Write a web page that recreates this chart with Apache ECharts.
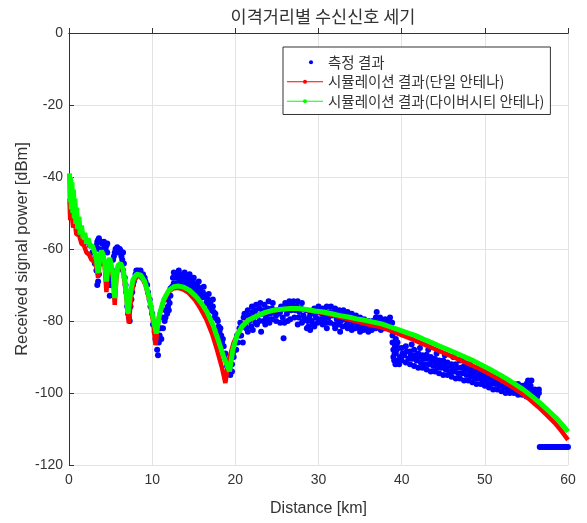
<!DOCTYPE html>
<html>
<head>
<meta charset="utf-8">
<script src="https://cdn.jsdelivr.net/npm/echarts@6/dist/echarts.min.js"></script>
<style>html,body{margin:0;padding:0;background:#fff;}#c{width:587px;height:523px;}</style>
</head>
<body>
<div id="c"></div>
<script>
var xTicks = [0, 10, 20, 30, 40, 50, 60];
var yTicks = [0, -20, -40, -60, -80, -100, -120];
var seriesNames = ['측정 결과', '시뮬레이션 결과(단일 안테나)', '시뮬레이션 결과(다이버시티 안테나)'];

// measured points [distance km, dBm]
var measured = [
[0.3,-50],[0.6,-52],[1,-54],[1.5,-56],[2,-58],[2.5,-59],[3,-60],
[3.2,-62],[3.4,-58],[3.5,-57.5],[3.6,-60],[3.3,-66],[3.4,-70],[3.7,-64],[3.9,-61],[4.1,-60],[4.3,-59],[4.5,-59],[4.6,-61],[4.4,-64],[4.7,-66],[4.8,-70],[4.9,-73],[5.1,-68],[5.3,-63],[5.5,-61],[5.7,-61],[5.9,-60],[6.1,-60],[6.3,-62],[6.5,-61],[6.6,-64],[6.7,-68],[6.9,-72],[7.0,-76],[7.2,-79],[7.4,-76],[7.6,-72],[7.8,-69],[8.0,-67],[8.3,-66],[8.6,-66],[8.9,-67],[9.2,-69],[9.5,-72],[9.8,-76],[10.1,-81],[10.4,-85],[10.6,-88],[10.8,-86],[11.0,-82],[11.3,-79],[11.6,-77],[11.9,-74],[12.2,-71],[12.5,-68],[12.8,-67],[13.1,-67],[13.4,-67.5],[13.7,-67],[14.0,-68],[14.3,-68],[14.6,-68.5],[14.9,-69],[15.2,-70],[15.5,-70.5],[15.8,-71],[16.1,-72],[16.4,-73],[16.7,-74],[17.0,-75],[17.3,-76],[17.6,-78],[17.9,-80],[18.2,-82],[18.5,-85],[18.8,-89],[19.1,-94],[19.4,-95],[19.6,-92],[19.9,-88],[20.2,-84],
[3.3,-59],[3.6,-57],[3.8,-58],[4.0,-58.5],[4.2,-58],[4.4,-60],[4.6,-58.5],[5.0,-70],[5.2,-66],[5.4,-62],[5.6,-60],[5.8,-59.5],[6.0,-61],[6.2,-60.5],[6.4,-63],[6.5,-66],[6.8,-70],[7.1,-78],[7.3,-80],[7.5,-74],[7.7,-70],[8.1,-66],[8.4,-67],[8.8,-68],[9.1,-68],[9.4,-70],[9.7,-74],[10.0,-78],[10.3,-83],[3.5,-69],[3.6,-67],[4.7,-69],[2.8,-61],[3.1,-64],
[10.7,-89.5],[10.9,-84],[11.1,-85],[11.3,-82],[11.6,-79],[11.9,-76],[12.2,-73],[12.0,-77],
[12.6,-69.5],[13,-69.5],[13.5,-69.8],[14,-70],[14.5,-70.5],[15,-71.5],[15.5,-72.5],[16,-73.5],[16.5,-75],[17,-77],[17.5,-79],[18,-81.5],[18.3,-84],[18.6,-87],[18.9,-91],[19.2,-92],[19.5,-90],[19.8,-90],[20,-86],[11.5,-80],[11.8,-78],[12.1,-75],
[12.4,-70.5],[12.9,-68],[13.3,-68.5],[13.8,-68.5],[14.2,-69],[14.7,-69.5],[15.1,-70.5],[15.6,-71.5],[16.1,-73],[16.6,-74],[16.9,-76],[17.4,-77.5],[17.8,-79.5],[18.1,-83],[18.4,-86],[18.7,-89.5],[19.0,-92.5],[19.3,-93],[19.6,-94],[19.7,-89],[20.1,-88],[20.3,-86],[20.5,-84],[12.6,-66.5],[13.2,-66],[13.9,-66.5],[14.5,-67],[15.0,-68],[15.6,-69],[16.2,-70.5],[16.8,-72.5],[17.3,-74],
[20.5,-82],[21,-79],[21.5,-77],[22,-76],[22.5,-75.5],[23,-75],[23.5,-75.5],[24,-74.5],[24.5,-75],[25,-77],[25.5,-76],[26,-75],[26.5,-74.5],[27,-74.5],[27.5,-74.5],[28,-75],[28.5,-77],[29,-78],[29.5,-76.5],[30,-76],[30.5,-76.5],[31,-76],[31.5,-76],[32,-76.5],[32.5,-77],[33,-77],[33.5,-77.5],[34,-78],[34.5,-78.5],[35,-79],[35.5,-79.5],[36,-80],[36.5,-80],[37,-77.5],[37.5,-79.5],[38,-79.5],[38.5,-79.5],
[20.7,-84],[21.2,-81],[21.7,-80],[22.2,-79],[22.7,-78.5],[23.2,-78],[23.7,-79],[24.2,-78],[24.7,-77.5],[25.2,-78],[25.7,-79],[26.2,-78],[26.7,-77],[27.2,-77],[27.7,-77.5],[28.2,-78.5],[28.7,-80],[29.2,-80],[29.7,-79],[30.2,-79.5],[30.7,-79],[31.2,-79],[31.7,-78.5],[32.2,-79.5],[32.7,-80],[33.2,-79.5],[33.7,-80],[34.2,-80.5],[34.7,-81],[35.2,-81],[35.7,-81.5],[36.2,-81.5],[36.7,-81],[37.2,-80.5],[37.7,-81],[38.2,-80.5],
[20.9,-86],[21.5,-83],[22.1,-82.5],[22.6,-81],[23.1,-83],[23.6,-81],[24.1,-80.5],[25.8,-84.8],[26.3,-80],[27.5,-81],[28,-80.5],[28.6,-82],[29,-82.5],[29.5,-81.5],[30.5,-81],[31,-82],[32,-82],[32.6,-83],[33.5,-82],[34,-82.5],[35,-83],[35.5,-82],[36,-83],[37.5,-82.5],
[20.6,-80.5],[21.1,-78],[21.6,-78.5],[22.1,-77.5],[22.4,-77],[22.9,-76.5],[23.4,-77],[23.9,-76.5],[24.4,-76.5],[24.9,-78.5],[25.4,-77.5],[25.9,-76.5],[26.4,-76],[26.9,-75.5],[27.4,-76],[27.9,-76.5],[28.4,-79.5],[28.9,-79],[29.4,-78],[29.9,-77.5],[30.4,-78],[30.9,-77.5],[31.4,-77.5],[31.9,-77.5],[32.4,-78],[32.9,-78.5],[33.4,-78.5],[33.9,-79],[34.4,-79.5],[34.9,-80],[35.4,-80.5],[35.9,-80.5],[36.4,-80.5],[36.9,-79],[37.4,-79],[37.9,-80],[38.4,-80.5],[38.6,-79],
[21.3,-82],[21.9,-81.5],[22.4,-80.5],[22.9,-80],[23.4,-80],[23.9,-79.5],[24.4,-79.5],[24.9,-80],[25.4,-80.5],[25.9,-80.5],[26.6,-79.5],[27.1,-79],[27.6,-79],[28.1,-80],[28.8,-81.5],[29.3,-81],[29.9,-80.5],[30.4,-80],[30.9,-80.5],[31.4,-80.5],[31.9,-81],[32.4,-81],[32.9,-81.5],[33.4,-81],[33.9,-81.5],[34.4,-82],[34.9,-82],[35.4,-82.5],[35.9,-82.5],[36.4,-82.5],[36.9,-82],[37.4,-81.5],[37.9,-82],[38.4,-81.5],
[38.8,-82],[38.9,-84],[38.9,-86],[39,-88],[39,-90],[39.1,-91],[39.2,-87],[39.3,-85],[38.85,-80.5],[39.05,-83],[39.15,-89],[39.25,-92],[39.4,-88],
[39.5,-86],[40,-87.5],[40.5,-87],[41,-88.5],[41.5,-88],[42,-89],[42.5,-89.5],[43,-89.4],[43.5,-90],[44,-90.5],[44.5,-91],[45,-91],[45.5,-91.5],[46,-92],[46.5,-92],[47,-91],[47.5,-92.5],[48,-93],[48.5,-93.5],[49,-93.5],[49.5,-94.5],[50,-95],[50.5,-95],[51,-95.5],[51.5,-96],[52,-96.5],[52.5,-97],[53,-97.5],[53.5,-97.5],[54,-97.5],[54.5,-98],[55,-97.5],[55.5,-98],[56,-99],[56.5,-100],
[39.3,-89],[39.8,-90],[40.3,-89.5],[40.8,-90.5],[41.3,-90.5],[41.8,-91],[42.3,-91.5],[42.8,-92],[43.3,-92],[43.8,-92.5],[44.3,-93],[44.8,-93],[45.3,-93.5],[45.8,-94],[46.3,-94],[46.8,-94.5],[47.3,-94.5],[47.8,-95],[48.3,-95.5],[48.8,-96],[49.3,-96],[49.8,-96.5],[50.3,-97],[50.8,-97.5],[51.3,-97.5],[51.8,-98],[52.3,-98.5],[52.8,-99],[53.3,-99],[53.8,-99],[54.3,-99.5],[54.8,-99.5],[55.3,-99.5],[55.8,-100],[56.3,-101],
[39.6,-87.5],[40.1,-89],[40.6,-88.5],[41.1,-89.5],[41.6,-89.5],[42.1,-90],[42.6,-90.5],[43.1,-90.5],[43.6,-91],[44.1,-91.5],[44.6,-92],[45.1,-92],[45.6,-92.5],[46.1,-93],[46.6,-93],[47.1,-93],[47.6,-93.5],[48.1,-94],[48.6,-94.5],[49.1,-95],[49.6,-95.5],[50.1,-96],[50.6,-96],[51.1,-96.5],[51.6,-97],[52.1,-97.5],[52.6,-98],[53.1,-98],[53.6,-98.5],[54.1,-98.5],[54.6,-99],[55.1,-98.5],[55.6,-99],[56.1,-100],[56.5,-99],
[39.5,-91],[40,-91],[41,-92],[42,-93],[43,-93.5],[44,-94],[45,-95],[46,-95.5],[47,-96],[48,-96.5],[49,-97.5],[50,-98],[51,-99],[52,-99.5],[53,-100],[54,-100.5],[55,-101],[56,-101.5],
[39.7,-92],[40.5,-91.5],[41.5,-92.5],[42.5,-93],[43.5,-94],[44.5,-94.5],[45.5,-95],[46.5,-96],[47.5,-96.5],[48.5,-97],[49.5,-97.5],[50.5,-98.5],[51.5,-99],[52.5,-100],[53.5,-100],[54.5,-100.5],[55.5,-101],[56.2,-102],
[41.2,-86.5],[42.2,-87.5],[43.2,-88],[44.2,-89],[45.2,-89.5],[46.2,-90],[47.2,-90.5],[48.2,-92],[50.2,-93.5],[52,-95.5],[55.2,-96.5],[55.6,-96.5],
[56.6,-115],[56.8,-115],[57,-115],[57.2,-115],[57.4,-115],[57.6,-115],[57.8,-115],[58,-115],[58.2,-115],[58.4,-115],[58.6,-115],[58.8,-115],[59,-115],[59.2,-115],[59.4,-115],[59.6,-115],[59.8,-115],[60,-115]
];

// simulation, single antenna
var simSingle = [
[0.05,-46],[0.15,-52],[0.3,-50],[0.5,-54],[0.7,-53],[0.9,-56],[1.2,-56],[1.5,-58.5],[1.8,-59],[2.1,-61],[2.4,-61.5],[2.7,-63],[3.0,-63.5],[3.3,-65],[3.5,-68],[3.7,-63],[3.9,-61.5],[4.1,-62.5],[4.3,-65],[4.5,-72],[4.7,-65],[4.9,-63],[5.1,-63.5],[5.3,-68],[5.5,-75.5],[5.7,-68],[5.9,-65],[6.2,-64.5],[6.5,-66],[6.8,-71],[7.2,-80.6],[7.5,-73],[7.8,-69],[8.2,-67.5],[8.7,-67.6],[9.2,-70],[9.7,-74.5],[10.1,-80],[10.4,-86.7],[10.8,-79],[11.3,-75],[11.9,-72],[12.5,-71],[13.1,-70.8],[13.7,-71.2],[14.4,-72.2],[15.1,-74],[15.8,-76.5],[16.5,-79.5],[17.2,-83.5],[17.8,-88],[18.4,-93],[18.8,-97.2],[19.2,-91],[19.8,-86],[20.5,-82.5],[21.4,-80],[22.4,-78.8],[23.4,-77.8],[24.4,-77.2],[25.4,-76.8],[26.4,-76.6],[27.4,-76.6],[28.4,-76.9],[29.4,-77.3],[30.4,-77.7],[31.4,-78.2],[32.4,-78.8],[33.4,-79.4],[34.4,-80],[35.4,-80.6],[36.4,-81.2],[37.4,-81.6],[38.4,-82.5],[39.4,-83.4],[40.4,-84.3],[41.4,-85.2],[42.4,-86.2],[43.4,-87.2],[44.4,-88.2],[45.4,-89.2],[46.4,-90.2],[47.4,-91.2],[48.4,-92.3],[49.4,-93.3],[50.4,-94.5],[51.4,-95.8],[52.4,-97.1],[53.4,-98.5],[54.4,-100],[55.4,-101.8],[56.4,-103.8],[57.4,-106],[58.4,-108.3],[59.2,-110.5],[60,-113]
];

// simulation, diversity antenna
var simDiversity = [
[0.05,-39],[0.12,-47],[0.2,-40],[0.28,-49],[0.36,-41.5],[0.45,-50],[0.54,-43.5],[0.63,-51.5],[0.72,-46],[0.82,-53],[0.92,-48.5],[1.05,-54.5],[1.2,-51],[1.35,-56],[1.5,-53.5],[1.7,-57],[1.9,-55.5],[2.1,-58.5],[2.3,-57],[2.55,-59.5],[2.8,-59],[3.1,-61],[3.3,-63],[3.5,-66.7],[3.7,-62],[3.9,-60.5],[4.1,-61.5],[4.3,-64],[4.5,-69],[4.7,-64],[4.9,-62.5],[5.1,-63],[5.3,-67],[5.5,-73.6],[5.7,-67],[5.9,-64.5],[6.2,-64],[6.5,-65.5],[6.8,-70],[7.1,-78],[7.4,-72],[7.7,-68.5],[8.1,-67],[8.6,-67.2],[9.1,-69],[9.6,-73],[10.1,-79],[10.5,-83.5],[10.9,-78],[11.4,-74],[12,-71.5],[12.6,-70.5],[13.2,-70.3],[13.8,-70.6],[14.5,-71.5],[15.2,-73],[15.9,-75],[16.6,-77.5],[17.3,-81],[17.9,-85],[18.6,-90],[19.3,-94],[19.7,-88],[20.2,-84],[20.8,-81.5],[21.6,-79.7],[22.6,-78.6],[23.6,-77.6],[24.6,-77],[25.6,-76.7],[26.6,-76.5],[27.6,-76.5],[28.6,-76.8],[29.6,-77.2],[30.6,-77.5],[31.6,-78],[32.6,-78.5],[33.6,-78.9],[34.6,-79.4],[35.6,-79.8],[36.6,-80.3],[37.6,-80.8],[38.6,-81.6],[39.6,-82.4],[40.6,-83.2],[41.6,-84],[42.6,-85],[43.6,-86],[44.6,-87],[45.6,-88],[46.6,-89],[47.6,-90],[48.6,-91],[49.6,-92.2],[50.6,-93.4],[51.6,-94.7],[52.6,-96],[53.6,-97.5],[54.6,-99],[55.6,-100.8],[56.6,-102.7],[57.6,-104.8],[58.6,-107],[59.3,-108.8],[60,-110.7]
];

function svgIcon(color, withLine) {
  var s = "<svg xmlns='http://www.w3.org/2000/svg' width='36' height='10'>" +
    (withLine ? "<line x1='0' y1='5' x2='36' y2='5' stroke='" + color + "' stroke-width='1.2'/>" : "") +
    "<circle cx='" + (withLine ? 18 : 24) + "' cy='5' r='2' fill='" + color + "'/></svg>";
  return 'image://data:image/svg+xml;charset=utf-8,' + encodeURIComponent(s);
}

var latin = 'Liberation Sans, Arial, sans-serif';
var kr = 'Noto Sans CJK KR, sans-serif';
var chart = echarts.init(document.getElementById('c'), null, {renderer: 'canvas'});
chart.setOption({
  animation: false,
  backgroundColor: '#fff',
  title: {
    text: '이격거리별 수신신호 세기',
    left: 318, top: 3, textAlign: 'center',
    textStyle: {fontFamily: kr, fontSize: 17.5, fontWeight: 'normal', color: '#333'}
  },
  legend: {
    orient: 'vertical', left: 283, top: 47,
    padding: [8, 6, 6, 4], itemGap: 5, itemWidth: 36, itemHeight: 10,
    backgroundColor: '#fff', borderColor: '#333', borderWidth: 1, borderRadius: 0,
    textStyle: {fontFamily: kr, fontSize: 14.5, color: '#333'},
    data: [
      {name: seriesNames[0], icon: svgIcon('#0000ff', false)},
      {name: seriesNames[1], icon: svgIcon('#ff0000', true)},
      {name: seriesNames[2], icon: svgIcon('#00ff00', true)}
    ]
  },
  grid: {left: 69, right: 19, top: 33, bottom: 58, containLabel: false},
  xAxis: [{
    type: 'value', min: 0, max: 60, interval: 10,
    name: 'Distance [km]', nameLocation: 'middle', nameGap: 36, nameMoveOverlap: false,
    nameTextStyle: {fontFamily: latin, fontSize: 16, color: '#333'},
    axisLine: {lineStyle: {color: '#333', width: 1}},
    axisTick: {inside: true, length: 5, lineStyle: {color: '#333'}},
    axisLabel: {fontFamily: latin, fontSize: 14, color: '#333', margin: 8,
      formatter: function (v) { return xTicks.indexOf(v) >= 0 ? String(v) : ''; }},
    splitLine: {show: true, lineStyle: {color: '#e3e3e3', width: 1}}
  }, {
    type: 'value', min: 0, max: 60, interval: 10, position: 'top',
    axisLine: {show: true, onZero: false, lineStyle: {color: '#333', width: 1}},
    axisTick: {show: false}, axisLabel: {show: false}, splitLine: {show: false}
  }],
  yAxis: {
    type: 'value', min: -120, max: 0, interval: 20,
    name: 'Received signal power [dBm]', nameLocation: 'middle', nameGap: 38, nameMoveOverlap: false,
    nameTextStyle: {fontFamily: latin, fontSize: 16.5, color: '#333'},
    axisLine: {show: true, onZero: false, lineStyle: {color: '#333', width: 1}},
    axisTick: {show: true, inside: true, length: 5, lineStyle: {color: '#333'}},
    axisLabel: {fontFamily: latin, fontSize: 14, color: '#333', margin: 6,
      formatter: function (v) { return yTicks.indexOf(v) >= 0 ? String(v) : ''; }},
    splitLine: {show: true, lineStyle: {color: '#e3e3e3', width: 1}}
  },
  series: [{
    name: seriesNames[0], type: 'scatter', data: measured,
    symbol: 'circle', symbolSize: 6, itemStyle: {color: '#0000ff', opacity: 1}, z: 2
  }, {
    name: seriesNames[1], type: 'line', data: simSingle,
    showSymbol: false, symbol: 'circle', smooth: false,
    lineStyle: {color: '#ff0000', width: 4.5}, itemStyle: {color: '#ff0000'}, z: 3
  }, {
    name: seriesNames[2], type: 'line', data: simDiversity,
    showSymbol: false, symbol: 'circle', smooth: false,
    lineStyle: {color: '#00ff00', width: 5}, itemStyle: {color: '#00ff00'}, z: 4
  }]
});
</script>
</body>
</html>
